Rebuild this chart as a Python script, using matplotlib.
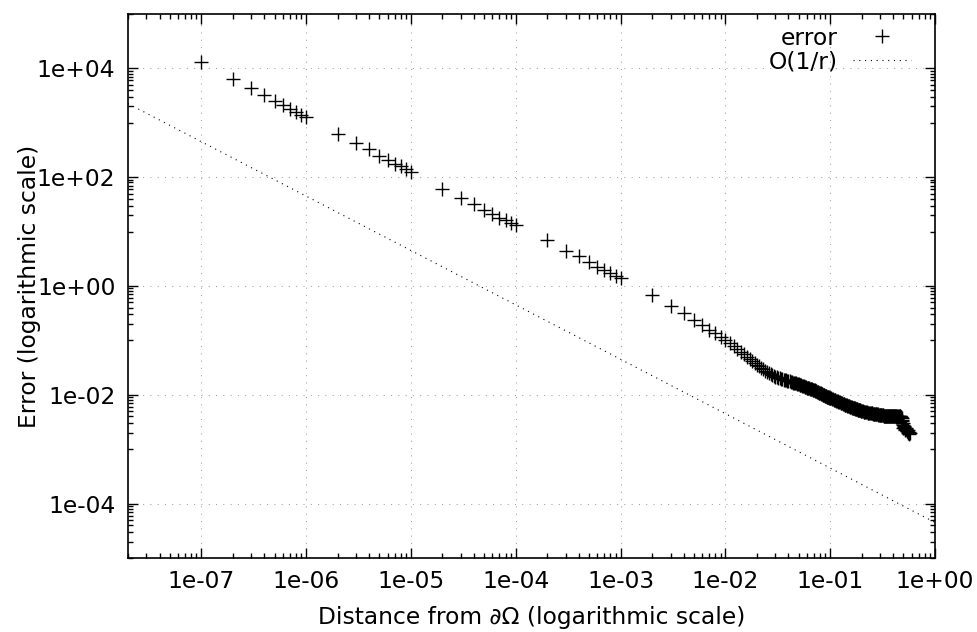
import numpy as np
import matplotlib
matplotlib.use("Agg")
import matplotlib.pyplot as plt
from matplotlib.ticker import FixedLocator, FuncFormatter, NullFormatter

plt.rcParams['font.family'] = ['DejaVu Sans']
FS = 16.8

# --- sampled distances and errors -------------------------------------------
# regular decades: r = k * 10^d, k = 1..9, followed by the next power of ten
r_decades = [1e-7, 2e-7, 3e-7, 4e-7, 5e-7, 6e-7, 7e-7, 8e-7, 9e-7,
             1e-6, 2e-6, 3e-6, 4e-6, 5e-6, 6e-6, 7e-6, 8e-6, 9e-6,
             1e-5, 2e-5, 3e-5, 4e-5, 5e-5, 6e-5, 7e-5, 8e-5, 9e-5,
             1e-4, 2e-4, 3e-4, 4e-4, 5e-4, 6e-4, 7e-4, 8e-4, 9e-4,
             1e-3, 2e-3, 3e-3, 4e-3, 5e-3, 6e-3, 7e-3, 8e-3, 9e-3,
             1e-2]
err_decades = [13000, 6400, 4320, 3240, 2550, 2120, 1810, 1570, 1410,
               1290, 619, 420, 323, 250, 211, 176, 158, 140,
               125, 61.6, 42.1, 31.6, 25.2, 20.7, 18.0, 16.0, 14.3,
               13.3, 7.15, 4.48, 3.52, 2.72, 2.27, 1.97, 1.71, 1.55,
               1.38, 0.671, 0.433, 0.318, 0.239, 0.191, 0.156, 0.134, 0.115,
               0.102]

# dense sampling near the boundary layer (uniform grids in r)
r_dense_a = np.round(np.arange(0.011, 0.0305, 0.001), 3)      # 0.011 .. 0.030
err_dense_a = [0.0884, 0.0775, 0.0687, 0.0614, 0.0553, 0.0502, 0.0458, 0.0420, 0.0387, 0.0358,
               0.0335, 0.0315, 0.0297, 0.0279, 0.0267, 0.0254, 0.0243, 0.0231, 0.0221, 0.0213]

r_dense_b = np.round(np.arange(0.031, 0.1005, 0.001), 3)      # 0.031 .. 0.100
err_dense_b = [0.0208, 0.0204, 0.0200, 0.0197, 0.0194, 0.0190, 0.0188, 0.0184, 0.0182, 0.0178,
               0.0176, 0.0173, 0.0171, 0.0168, 0.0167, 0.0164, 0.0162, 0.0160, 0.0158, 0.0156,
               0.0153, 0.0151, 0.0149, 0.0148, 0.0145, 0.0143, 0.0142, 0.0140, 0.0138, 0.0136,
               0.0135, 0.0133, 0.0132, 0.0130, 0.0129, 0.0127, 0.0126, 0.0124, 0.0123, 0.0121,
               0.0120, 0.0118, 0.0117, 0.0115, 0.0114, 0.0112, 0.0111, 0.0109, 0.0108, 0.0107,
               0.0106, 0.0104, 0.0103, 0.0102, 0.0101, 0.0100, 0.0099, 0.0098, 0.0097, 0.0096,
               0.0095, 0.0094, 0.0093, 0.0092, 0.0091, 0.0090, 0.00895, 0.0089, 0.0088, 0.0087]

r_dense_c = np.round(np.arange(0.102, 0.2005, 0.002), 3)      # 0.102 .. 0.200
err_dense_c = [0.00856, 0.00842, 0.00829, 0.00816, 0.00803, 0.00791, 0.00779, 0.00767, 0.00756, 0.00745,
               0.00735, 0.00725, 0.00715, 0.00706, 0.00696, 0.00687, 0.00678, 0.00670, 0.00661, 0.00653,
               0.00645, 0.00637, 0.00630, 0.00622, 0.00615, 0.00610, 0.00605, 0.00600, 0.00594, 0.00589,
               0.00584, 0.00579, 0.00575, 0.00570, 0.00565, 0.00561, 0.00556, 0.00552, 0.00547, 0.00543,
               0.00539, 0.00535, 0.00531, 0.00527, 0.00523, 0.00519, 0.00516, 0.00512, 0.00509, 0.00505]

r_dense_d = np.round(np.arange(0.204, 0.5725, 0.004), 3)      # 0.204 .. 0.572
err_dense_d = [0.00498, 0.00491, 0.00486, 0.00481, 0.00476, 0.00473, 0.00470, 0.00468, 0.00465, 0.00462,
               0.00460, 0.00457, 0.00455, 0.00452, 0.00449, 0.00447, 0.00445, 0.00443, 0.00440, 0.00438,
               0.00436, 0.00434, 0.00432, 0.00430, 0.00428, 0.00426, 0.00424, 0.00422, 0.00420, 0.00418,
               0.00416, 0.00415, 0.00414, 0.00413, 0.00412, 0.00412, 0.00411, 0.00411, 0.00410, 0.00410,
               0.00409, 0.00409, 0.00408, 0.00408, 0.00408, 0.00407, 0.00406, 0.00406, 0.00405, 0.00405,
               0.00404, 0.00403, 0.00402, 0.00403, 0.00404, 0.00401, 0.00399, 0.00398, 0.00400, 0.00402,
               0.00398, 0.00396, 0.00399, 0.00401, 0.00402, 0.00400, 0.00397, 0.00398, 0.00390, 0.00375,
               0.00350, 0.00325, 0.00300, 0.00275, 0.00245, 0.00255, 0.00262, 0.00250, 0.00235, 0.00228,
               0.00236, 0.00242, 0.00238, 0.00222, 0.00212, 0.00218, 0.00222, 0.00210, 0.00195, 0.00188,
               0.00196, 0.00204, 0.00200]

# reference slope O(1/r)
ref_coeff = 4.5e-5
x_limits = (2e-8, 1.0)
y_limits = (1e-5, 1e5)

x_major = [1e-7, 1e-6, 1e-5, 1e-4, 1e-3, 1e-2, 1e-1, 1e0]
y_major = [1e-4, 1e-2, 1e0, 1e2, 1e4]

# --- figure ------------------------------------------------------------------
fig = plt.figure(figsize=(9.78, 6.32), dpi=100)
ax = fig.add_axes([128 / 978, 74 / 632, 807 / 978, 544 / 632])
ax.set_xscale('log')
ax.set_yscale('log')
ax.set_xlim(*x_limits)
ax.set_ylim(*y_limits)

r_all = np.concatenate([r_decades, r_dense_a, r_dense_b, r_dense_c, r_dense_d])
err_all = np.concatenate([err_decades, err_dense_a, err_dense_b, err_dense_c, err_dense_d])

ax.plot(r_all, err_all, ls='none', marker='+', ms=10, mew=1.0,
        color='black', label='error', zorder=3)

r_line = np.array(x_limits)
ax.plot(r_line, ref_coeff / r_line, ls=(0, (1, 4.2)), lw=0.8,
        color='black', label='O(1/r)', zorder=2)

# ticks: labelled powers of ten, logarithmic minors on x,
# linear minors inside each two-decade interval on y
x_minor = [k * 10.0 ** d for d in range(-8, 0) for k in range(2, 10)
           if x_limits[0] <= k * 10.0 ** d <= x_limits[1]]
y_minor = [k * 10.0 ** (2 * n + 1) for n in range(-3, 3) for k in range(1, 10)
           if y_limits[0] <= k * 10.0 ** (2 * n + 1) <= y_limits[1]]

ax.xaxis.set_major_locator(FixedLocator(x_major))
ax.xaxis.set_minor_locator(FixedLocator(x_minor))
ax.yaxis.set_major_locator(FixedLocator(y_major))
ax.yaxis.set_minor_locator(FixedLocator(y_minor))
fmt = FuncFormatter(lambda v, pos: f"{v:.0e}")
ax.xaxis.set_major_formatter(fmt)
ax.yaxis.set_major_formatter(fmt)
ax.xaxis.set_minor_formatter(NullFormatter())
ax.yaxis.set_minor_formatter(NullFormatter())

ax.tick_params(which='both', direction='in', top=True, right=True,
               color='black', width=1.0, labelsize=FS, pad=9)
ax.tick_params(which='major', length=7)
ax.tick_params(which='minor', length=3.6)

for sp in ax.spines.values():
    sp.set_linewidth(1.2)
    sp.set_color('black')

ax.grid(which='major', color='#a0a0a0', linestyle=(0, (1, 6)), linewidth=0.75, zorder=0)
ax.set_axisbelow(True)

ax.set_xlabel('Distance from ∂Ω (logarithmic scale)', fontsize=FS)
ax.set_ylabel('Error (logarithmic scale)', fontsize=FS)
ax.xaxis.set_label_coords(0.5, -0.088)
ax.yaxis.set_label_coords(-0.1084, 0.5)

ax.legend(loc='upper right', bbox_to_anchor=(0.9703, 0.977), frameon=False,
          markerfirst=False, fontsize=FS, handlelength=2.5, handletextpad=0.65,
          labelspacing=0.03, borderpad=0, borderaxespad=0, numpoints=1)

fig.savefig('out.png', dpi=100)
